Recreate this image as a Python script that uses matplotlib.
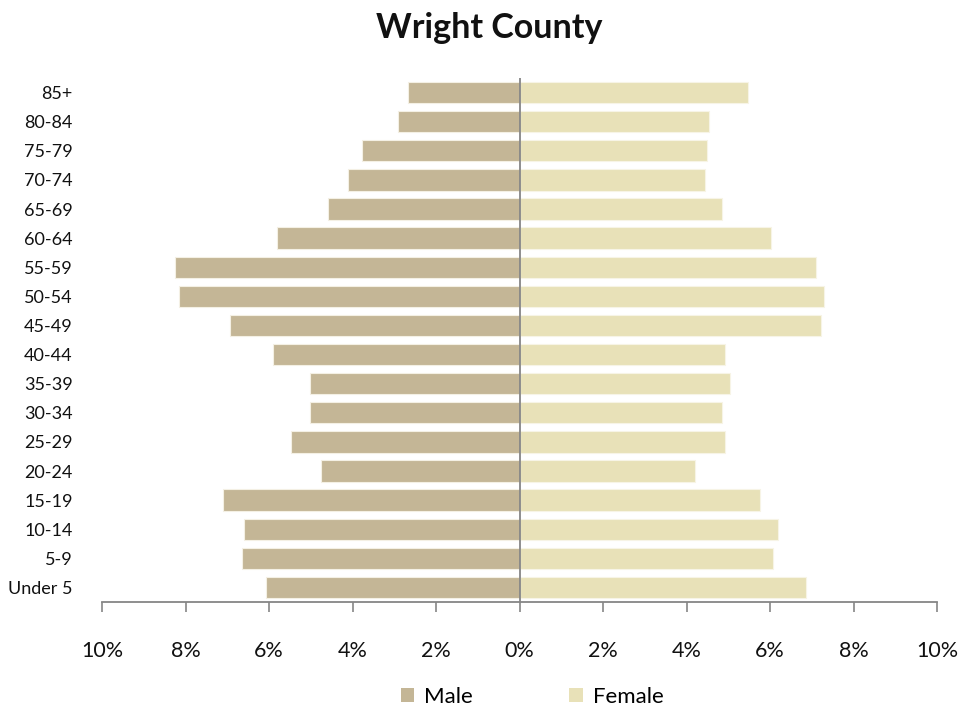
import matplotlib
matplotlib.use("Agg")
import matplotlib.pyplot as plt
from matplotlib.ticker import FuncFormatter

plt.rcParams['font.family'] = ['Lato', 'DejaVu Sans']

age_groups = ["Under 5", "5-9", "10-14", "15-19", "20-24", "25-29", "30-34", "35-39",
              "40-44", "45-49", "50-54", "55-59", "60-64", "65-69", "70-74", "75-79",
              "80-84", "85+"]
male = [6.06, 6.64, 6.60, 7.11, 4.75, 5.47, 5.02, 5.02,
        5.91, 6.94, 8.15, 8.25, 5.81, 4.58, 4.10, 3.78, 2.92, 2.68]
female = [6.86, 6.06, 6.20, 5.75, 4.20, 4.92, 4.85, 5.03,
          4.92, 7.21, 7.30, 7.10, 6.03, 4.85, 4.44, 4.48, 4.54, 5.48]
x_ticks = [-10, -8, -6, -4, -2, 0, 2, 4, 6, 8, 10]

male_color = "#C4B696"
female_color = "#E8E1B8"
axis_color = "#868686"

fig = plt.figure(figsize=(9.79, 7.13), dpi=100)
ax = fig.add_axes([102/979, 1-602/713, (937-102)/979, (602-78)/713])

y = list(range(len(age_groups)))
ax.barh(y, [-m for m in male], height=0.73, color=male_color, edgecolor="#F4F0E4",
        linewidth=0.8, label="Male", zorder=2)
ax.barh(y, female, height=0.73, color=female_color, edgecolor="#F7F4E6",
        linewidth=0.8, label="Female", zorder=2)

ax.set_xlim(-10, 10)
ax.set_ylim(-0.5, len(age_groups) - 0.5)
ax.set_xticks(x_ticks)
ax.xaxis.set_major_formatter(FuncFormatter(lambda v, p: f"{abs(v):.0f}%"))
ax.set_yticks(y)
ax.set_yticklabels(age_groups)

ax.axvline(0, color=axis_color, linewidth=1.3, zorder=3)
for s in ["top", "right", "left"]:
    ax.spines[s].set_visible(False)
ax.spines["bottom"].set_color(axis_color)
ax.spines["bottom"].set_linewidth(1.3)

ax.tick_params(axis="x", direction="out", length=7, width=1.2, color=axis_color,
               labelsize=15.5, pad=21, labelcolor="#111111")
ax.tick_params(axis="y", length=0, labelsize=13, pad=21, labelcolor="#111111")

fig.text(0.5, 1-28/713, "Wright County", ha="center", va="center",
         fontsize=24.5, fontweight="bold", color="#111111")

leg = fig.legend(loc="center", bbox_to_anchor=(532/979, 1-697/713), ncol=2,
                 frameon=False, fontsize=16, handlelength=0.62, handleheight=0.62,
                 handletextpad=0.45, columnspacing=4.3)
for h in leg.legend_handles:
    h.set_edgecolor("none")

fig.savefig("out.png", dpi=100)
